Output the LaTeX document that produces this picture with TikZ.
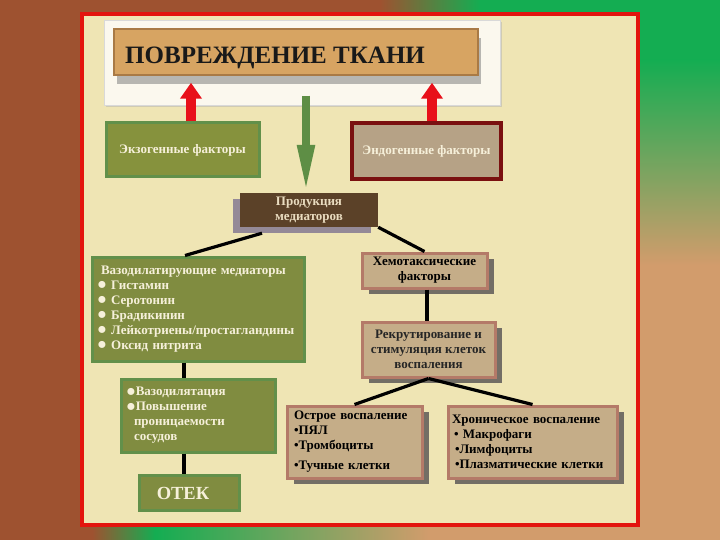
\documentclass[tikz,border=0pt]{standalone}
\usepackage{fontspec}
\setmainfont{Liberation Serif}
\usetikzlibrary{arrows.meta,shadows,calc}
\definecolor{bgbrown}{HTML}{9E5230}
\definecolor{bggreen}{HTML}{14AD52}
\definecolor{bgtan}{HTML}{D29C6C}
\definecolor{framered}{HTML}{E3140E}
\definecolor{cream}{HTML}{EFE5B4}
\definecolor{titlefill}{HTML}{D7A462}
\definecolor{titleborder}{HTML}{A97A45}
\definecolor{backfill}{HTML}{FBF8EE}
\definecolor{gfill}{HTML}{808C40}
\definecolor{gborder}{HTML}{62904A}
\definecolor{ctext}{HTML}{F6F0DA}
\definecolor{endofill}{HTML}{B6A286}
\definecolor{endoborder}{HTML}{7A1010}
\definecolor{prodfill}{HTML}{5B4128}
\definecolor{prodtext}{HTML}{EADCC0}
\definecolor{prodshadow}{HTML}{7E7290}
\definecolor{tfill}{HTML}{C5AD88}
\definecolor{tborder}{HTML}{B47A68}
\definecolor{tshadow}{HTML}{5E5A58}
\definecolor{arrred}{HTML}{E8101A}
\definecolor{arrgreen}{HTML}{5E8E45}
\newcommand\mybul{\raisebox{-0.5pt}{\scalebox{1.25}{●}}}
\tikzset{
  basebox/.style={rectangle, inner sep=0pt, font=\bfseries\fontsize{13}{15}\selectfont},
  greenbox/.style={basebox, draw=gborder, fill=gfill, line width=3pt, text=ctext},
  tanbox/.style={basebox, draw=tborder, fill=tfill, line width=3pt, text=black,
    drop shadow={shadow xshift=7pt, shadow yshift=-6pt, fill=tshadow, opacity=0.85}},
  link/.style={line width=3.2pt, draw=black},
  redarrow/.style={line width=10pt, draw=arrred, -{Triangle[length=16pt,width=21pt]}},
  greenarrow/.style={line width=8pt, draw=arrgreen, -{Triangle[length=48pt,width=16pt]}},
}
\begin{document}
\begin{tikzpicture}[x=1pt,y=-1pt]
\useasboundingbox (0,0) rectangle (720,540);
% background
\fill[bgbrown] (0,0) rectangle (720,540);
\fill[bggreen] (640,0) rectangle (720,60);
\shade[top color=bggreen, bottom color=bgtan] (640,60) rectangle (720,265);
\fill[bgtan] (640,265) rectangle (720,540);
\shade[left color=bgbrown, right color=bggreen] (380,0) rectangle (480,13);
\fill[bggreen] (480,0) rectangle (640,13);
\shade[left color=bgbrown, right color=bggreen] (92,527) rectangle (155,540);
\shade[left color=bggreen, right color=bgtan] (155,527) rectangle (430,540);
\fill[bgtan] (430,527) rectangle (640,540);
% frame
\draw[line width=4pt, draw=framered, fill=cream] (82,14) rectangle (638,525);
% title
\node[rectangle, draw=black!15, fill=backfill, minimum width=396pt, minimum height=85pt,
  drop shadow={shadow xshift=2pt, shadow yshift=-2pt, fill=black!30, opacity=0.5}] (back) at (302,62.5) {};
\node[rectangle, draw=titleborder, fill=titlefill, line width=1.5pt, minimum width=364pt, minimum height=46pt,
  drop shadow={shadow xshift=3pt, shadow yshift=-9pt, fill=black!50, opacity=0.55}] (title) at (296,52) {};
\node[anchor=base west, inner sep=0pt, text=black!90, font=\bfseries\fontsize{25}{28}\selectfont] (titletext) at (125,64)
  {ПОВРЕЖДЕНИЕ ТКАНИ};
% factor boxes
\node[basebox, draw=gborder, fill=gfill!95!yellow, line width=3pt, text=ctext, minimum width=153pt, minimum height=54pt] (exo) at (182.5,150) {Экзогенные факторы};
\node[basebox, draw=endoborder, fill=endofill, line width=3.5pt, text=ctext, minimum width=149pt, minimum height=56pt] (endo) at (426.5,151) {Эндогенные факторы};
% arrows
\coordinate (redL) at ($(title.south -| exo.north)+(8.5,7)$);
\coordinate (redR) at ($(title.south -| endo.north)+(5.5,7)$);
\draw[redarrow] ([xshift=8.5pt]exo.north) -- (redL);
\draw[redarrow] ([xshift=5.5pt]endo.north) -- (redR);
% production of mediators
\node[basebox, fill=prodfill, text=prodtext, align=center, minimum width=138pt, minimum height=34pt,
  drop shadow={shadow xshift=-7pt, shadow yshift=-6pt, fill=prodshadow, opacity=0.8}] (prod) at (309,210) {Продукция\\медиаторов};
\coordinate (gstart) at ($(title.south -| prod.north)+(-3,20)$);
\draw[greenarrow] (gstart) -- ([xshift=-3pt]prod.north);
% left branch
\node[greenbox, align=left, text width=202pt, inner xsep=5pt, minimum width=212pt, minimum height=104pt] (vaso) at (198,309)
  {\hspace*{4pt}Вазодилатирующие медиаторы\\
   \mybul\ Гистамин\\
   \mybul\ Серотонин\\
   \mybul\ Брадикинин\\
   \mybul\ Лейкотриены/простагландины\\
   \mybul\ Оксид нитрита};
\node[greenbox, align=left, text width=144pt, inner xsep=5pt, minimum width=154pt, minimum height=73pt] (vdil) at (198,415.5)
  {\mybul Вазодилятация\\
   \mybul Повышение\\
   \hspace*{8pt}проницаемости\\
   \hspace*{8pt}сосудов};
\node[greenbox, minimum width=100pt, minimum height=35pt] (otek) at (189,492.5) {};
\node[inner sep=0pt, text=ctext, font=\bfseries\fontsize{18.5}{20}\selectfont] (otektext) at (183,493) {ОТЕК};
% right branch
\node[tanbox, align=center, minimum width=125pt, minimum height=35pt] (chemo) at (424.5,270.5) {Хемотаксические\\факторы};
\node[tanbox, align=center, text=black!85, minimum width=133pt, minimum height=55pt] (recruit) at (428.5,349.5) {Рекрутирование и\\стимуляция клеток\\воспаления};
\node[tanbox, align=left, text width=121pt, inner xsep=7pt, minimum width=135pt, minimum height=72pt] (acute) at (354.5,442)
  {Острое воспаление\\
   •ПЯЛ\\
   •Тромбоциты\\[5pt]
   •Тучные клетки};
\node[tanbox, align=left, text width=161pt, inner xsep=4pt, minimum width=169pt, minimum height=72pt] (chronic) at (532.5,442)
  {Хроническое воспаление\\
   \hspace*{2pt}• Макрофаги\\
   \hspace*{3pt}•Лимфоциты\\
   \hspace*{3pt}•Плазматические клетки};
% connectors
\draw[link] ([xshift=-47pt,yshift=-6pt]prod.south) -- ([xshift=-13pt]vaso.north);
\draw[link] (prod.south east) -- (chemo.north);
\draw[link] ([xshift=2.5pt]chemo.south) -- ([xshift=2.5pt]chemo.south |- recruit.north);
\draw[link] (recruit.south) -- (acute.north);
\draw[link] (recruit.south) -- (chronic.north);
\draw[link] ([xshift=-14pt]vaso.south) -- ([xshift=-14pt]vaso.south |- vdil.north);
\draw[link] ([xshift=-14pt]vdil.south) -- ([xshift=-14pt]vdil.south |- otek.north);
\end{tikzpicture}
\end{document}
